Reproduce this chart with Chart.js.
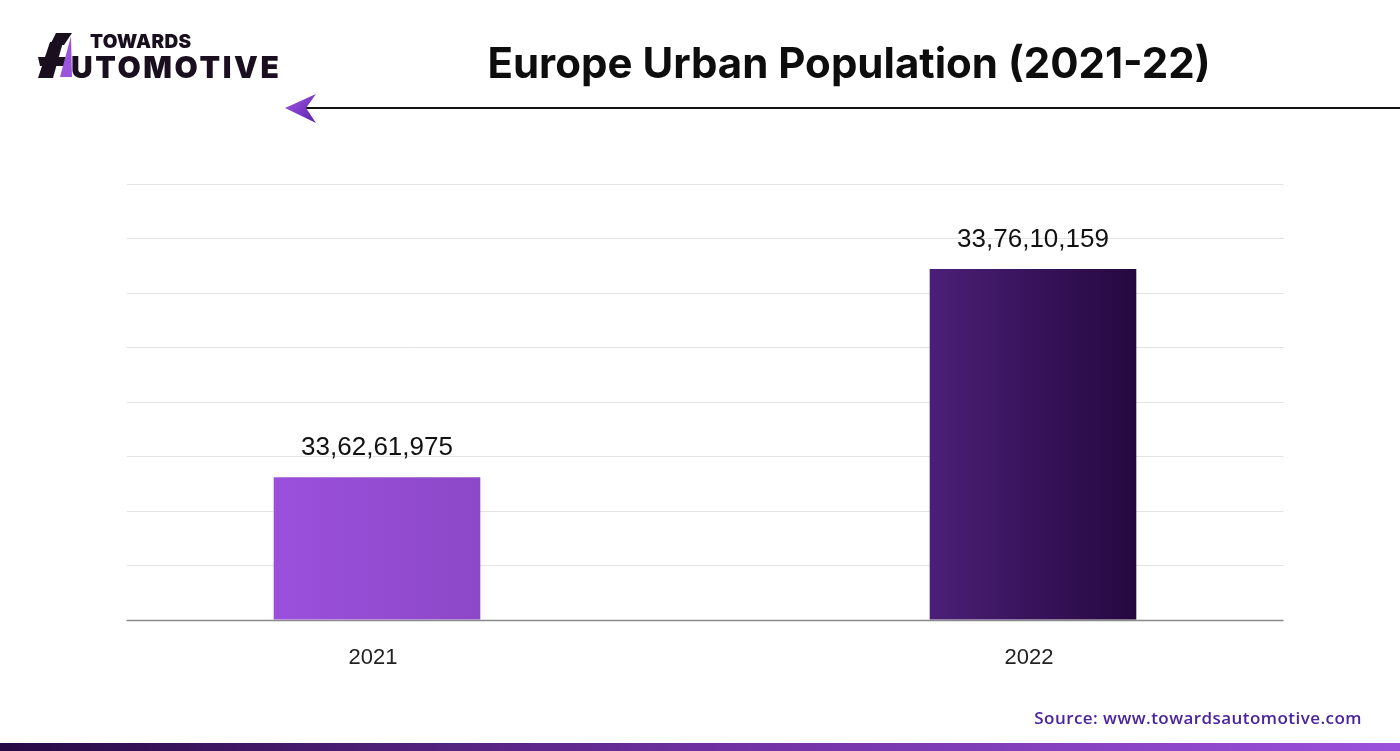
<!DOCTYPE html>
<html>
<head>
<meta charset="utf-8">
<script src="https://cdn.jsdelivr.net/npm/chart.js@4.4.1/dist/chart.umd.min.js"></script>
<style>
  html, body { margin: 0; padding: 0; background: #ffffff; }
  #wrap { position: relative; width: 1400px; height: 751px; overflow: hidden; background: #fff; }
  #chart { position: absolute; left: 0; top: 0; }
  .title { position: absolute; left: 0; width: 1698px; top: 37px; text-align: center;
           font-family: Inter, "Noto Sans", sans-serif; font-weight: 700; font-size: 42px; color: #0d0d0d; letter-spacing: 0px; }
  .logo1 { position: absolute; left: 90px; top: 30px; font-family: Inter, sans-serif; font-weight: 900; font-size: 19px; color: #1a0f1e; letter-spacing: 0.3px; line-height: 24px; }
  .logo2 { position: absolute; left: 71px; top: 49px; font-family: Inter, sans-serif; font-weight: 900; font-size: 30px; color: #1a0f1e; letter-spacing: 2.6px; line-height: 36px; }
  .source { position: absolute; right: 38px; top: 706px; font-family: "Open Sans", sans-serif; font-weight: 600; font-size: 17px; color: #4a23a0; letter-spacing: 0.45px; }
  .strip { position: absolute; left: 0; top: 743px; width: 1400px; height: 8px;
           background: linear-gradient(90deg, #260a45 0%, #6e30a0 50%, #9b50dc 100%); }
  svg.deco { position: absolute; left: 0; top: 0; }
</style>
</head>
<body>
<div id="wrap">
  <canvas id="chart" width="1400" height="751"></canvas>
  <svg class="deco" width="1400" height="751">
    <defs>
      <linearGradient id="ag" x1="0" y1="0" x2="1" y2="1">
        <stop offset="0" stop-color="#a35be0"/>
        <stop offset="1" stop-color="#5a1fb0"/>
      </linearGradient>
    </defs>
    <polygon points="56,33 72,33 64,45 50,45" fill="#1a0f1e"/>
    <polygon points="50,42 63,42 53,78 38,78" fill="#1a0f1e"/>
    <polygon points="38,57 66,57 64,66 40,66" fill="#1a0f1e"/>
    <polygon points="71,36 72,77 60,77" fill="#9b55dc"/>
    <line x1="300" y1="108" x2="1400" y2="108" stroke="#111" stroke-width="2"/>
    <polygon points="285,108 316,94 306,108 316,123" fill="url(#ag)"/>
  </svg>
  <div class="logo1">TOWARDS</div>
  <div class="logo2">UTOMOTIVE</div>
  <div class="title">Europe Urban Population (2021-22)</div>
  <div class="source">Source: www.towardsautomotive.com</div>
  <div class="strip"></div>
</div>
<script>
const categories = ['2021', '2022'];
const population = [336261975, 337610159];
const valueLabels = ['33,62,61,975', '33,76,10,159'];
const axisMin = 335340000;
const axisMax = 338160000;
const axisStep = 352500;

const barGradients = [['#9b50dc', '#8c48c8'], ['#4b1f78', '#25083f']];

const gridPlugin = {
  id: 'insetGrid',
  beforeDatasetsDraw(chart) {
    const { ctx, chartArea, scales } = chart;
    const inset = 77.5;
    const x1 = chartArea.left + inset, x2 = chartArea.right - inset;
    ctx.save();
    scales.y.ticks.forEach((t, i) => {
      const y = Math.round(scales.y.getPixelForValue(t.value)) + 0.5;
      const isBase = i === 0;
      ctx.strokeStyle = isBase ? '#8a8a8a' : '#e3e3e3';
      ctx.lineWidth = isBase ? 1.5 : 1;
      ctx.beginPath();
      ctx.moveTo(x1, y);
      ctx.lineTo(x2, y);
      ctx.stroke();
    });
    ctx.restore();
  }
};

const labelPlugin = {
  id: 'valueLabels',
  afterDatasetsDraw(chart) {
    const { ctx } = chart;
    const meta = chart.getDatasetMeta(0);
    ctx.save();
    ctx.font = '26px "Liberation Sans", Arial, sans-serif';
    ctx.fillStyle = '#111111';
    ctx.textAlign = 'center';
    ctx.textBaseline = 'middle';
    meta.data.forEach((bar, i) => {
      ctx.fillText(valueLabels[i], bar.x, bar.y - 29);
    });
    ctx.restore();
  }
};

const ctx = document.getElementById('chart').getContext('2d');
new Chart(ctx, {
  type: 'bar',
  data: {
    labels: categories,
    datasets: [{
      data: population,
      backgroundColor: (c) => {
        const chart = c.chart;
        const area = chart.chartArea;
        const xs = chart.scales && chart.scales.x;
        if (!area || !xs) return barGradients[c.dataIndex][0];
        const half = 103.5;
        const cx = xs.getPixelForValue(c.dataIndex);
        const g = chart.ctx.createLinearGradient(cx - half, 0, cx + half, 0);
        g.addColorStop(0, barGradients[c.dataIndex][0]);
        g.addColorStop(1, barGradients[c.dataIndex][1]);
        return g;
      },
      borderWidth: 0,
      barPercentage: 0.63,
      categoryPercentage: 0.5
    }]
  },
  options: {
    responsive: false,
    animation: false,
    devicePixelRatio: 1,
    layout: { padding: { left: 49, right: 39, top: 184, bottom: 55 } },
    plugins: { legend: { display: false }, tooltip: { enabled: false } },
    scales: {
      x: {
        grid: { display: false, drawTicks: false },
        border: { display: false },
        ticks: { font: { size: 22, family: '"Liberation Sans", Arial, sans-serif' }, color: '#222', padding: 25, labelOffset: -4 }
      },
      y: {
        display: false,
        min: axisMin,
        max: axisMax,
        ticks: { stepSize: axisStep },
        grid: { display: false }
      }
    }
  },
  plugins: [gridPlugin, labelPlugin]
});
</script>
</body>
</html>
